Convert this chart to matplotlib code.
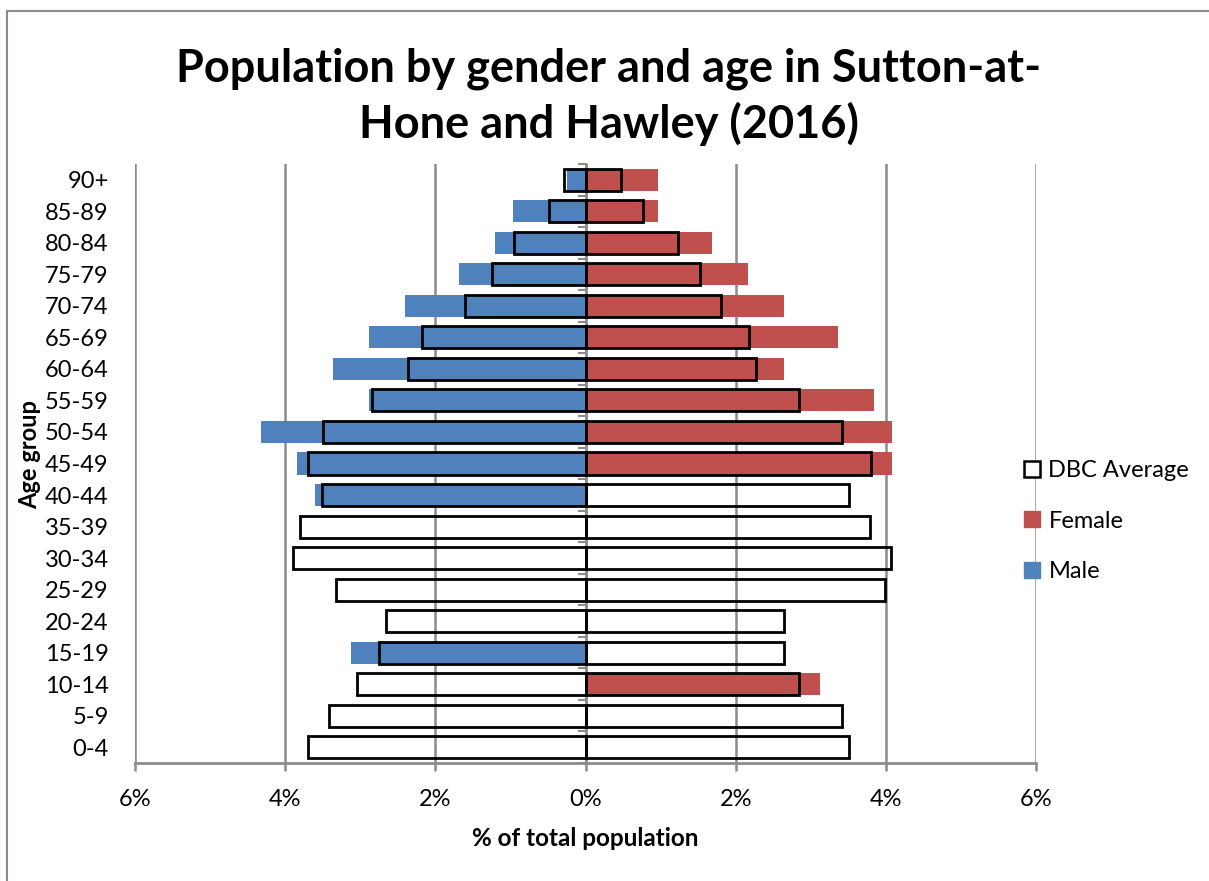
import numpy as np
import matplotlib
matplotlib.use("Agg")
import matplotlib.pyplot as plt
from matplotlib.lines import Line2D
from matplotlib.patches import Rectangle

plt.rcParams['font.family'] = ['Lato', 'DejaVu Sans']

# age groups from youngest (bottom) to oldest (top)
age_groups = ['0-4', '5-9', '10-14', '15-19', '20-24', '25-29', '30-34', '35-39',
              '40-44', '45-49', '50-54', '55-59', '60-64', '65-69', '70-74',
              '75-79', '80-84', '85-89', '90+']

# % of total population, Sutton-at-Hone and Hawley
male = [0, 0, 0, 3.12, 0, 0, 0, 0, 3.60, 3.84, 4.32, 2.88, 3.36, 2.88, 2.40,
        1.68, 1.20, 0.96, 0.24]
female = [0, 0, 3.12, 0, 0, 0, 0, 0, 0, 4.08, 4.08, 3.84, 2.64, 3.36, 2.64,
          2.16, 1.68, 0.96, 0.96]

# DBC average (male side, female side)
dbc_male = [3.70, 3.42, 3.04, 2.75, 2.66, 3.32, 3.89, 3.80, 3.51, 3.70, 3.50,
            2.84, 2.37, 2.18, 1.61, 1.24, 0.95, 0.48, 0.29]
dbc_female = [3.51, 3.41, 2.84, 2.65, 2.65, 3.99, 4.07, 3.79, 3.51, 3.80, 3.42,
              2.85, 2.27, 2.18, 1.81, 1.52, 1.23, 0.76, 0.47]

x_ticks = [-6, -4, -2, 0, 2, 4, 6]

blue = '#4F81BD'
red = '#C0504D'
grey = '#8C8C8C'

W, H = 1209, 881
fig = plt.figure(figsize=(W / 100, H / 100), dpi=100)

# chart area border (only left and top edges show in the picture)
fig.patches.append(Rectangle((7 / W, -0.5), 2.0, 1.5 - 11 / H,
                             transform=fig.transFigure, fill=False,
                             edgecolor=grey, linewidth=1.5))

ax = fig.add_axes([135 / W, 1 - 763 / H, (1036 - 135) / W, (763 - 164) / H])

y = np.arange(len(age_groups))
bh = 0.7

ax.barh(y, -np.array(male), height=bh, color=blue, zorder=2)
ax.barh(y, female, height=bh, color=red, zorder=2)
ax.barh(y, -np.array(dbc_male), height=bh, facecolor='none',
        edgecolor='black', linewidth=2, zorder=3)
ax.barh(y, dbc_female, height=bh, facecolor='none',
        edgecolor='black', linewidth=2, zorder=3)

ax.set_xlim(-6, 6)
ax.set_ylim(-0.5, len(age_groups) - 0.5)

ax.set_xticks(x_ticks)
ax.set_xticklabels([f'{abs(t)}%' for t in x_ticks])
ax.set_yticks(y)
ax.set_yticklabels(age_groups)

ax.set_axisbelow(True)
ax.grid(axis='x', color=grey, linewidth=1.8)
ax.grid(axis='y', visible=False)

for side in ['top', 'right', 'left']:
    ax.spines[side].set_visible(False)
ax.spines['bottom'].set_color(grey)
ax.spines['bottom'].set_linewidth(2)

ax.tick_params(axis='x', direction='out', length=6, width=1.8, color=grey,
               labelsize=17, pad=13)
ax.tick_params(axis='y', length=0, labelsize=17, pad=19)

# vertical axis at 0 with tick marks between categories
sec = ax.secondary_yaxis(0.5)
sec.set_alignment('left')
sec.set_yticks(np.arange(len(age_groups) + 1) - 0.5)
sec.set_yticklabels([])
sec.tick_params(axis='y', direction='out', length=6, width=1.5, color=grey)
sec.spines['left'].set_color(grey)
sec.spines['left'].set_linewidth(1.8)

ax.set_xlabel('% of total population', fontsize=17.5, fontweight='bold')
ax.xaxis.set_label_coords(0.5, -(838 - 763) / (763 - 164))
ax.xaxis.label.set_verticalalignment('center')
ax.set_ylabel('Age group', fontsize=17, fontweight='bold')
ax.yaxis.set_label_coords(-(135 - 30) / (1036 - 135), (763 - 455) / (763 - 164))
ax.yaxis.label.set_verticalalignment('center')

fig.text(609 / W, 1 - 97 / H,
         'Population by gender and age in Sutton-at-\nHone and Hawley (2016)',
         ha='center', va='center', fontsize=32.5, fontweight='bold',
         linespacing=1.32)

handles = [
    Line2D([], [], linestyle='none', marker='s', markersize=12,
           markerfacecolor='white', markeredgecolor='black', markeredgewidth=1.8),
    Line2D([], [], linestyle='none', marker='s', markersize=12,
           markerfacecolor=red, markeredgecolor=red),
    Line2D([], [], linestyle='none', marker='s', markersize=12,
           markerfacecolor=blue, markeredgecolor=blue),
]
fig.legend(handles, ['DBC Average', 'Female', 'Male'], loc='center left',
           bbox_to_anchor=(1013 / W, 1 - 521 / H), frameon=False,
           fontsize=17, handlelength=0.8, handletextpad=0.3,
           labelspacing=1.25, borderaxespad=0)

fig.savefig('out.png', dpi=100)
